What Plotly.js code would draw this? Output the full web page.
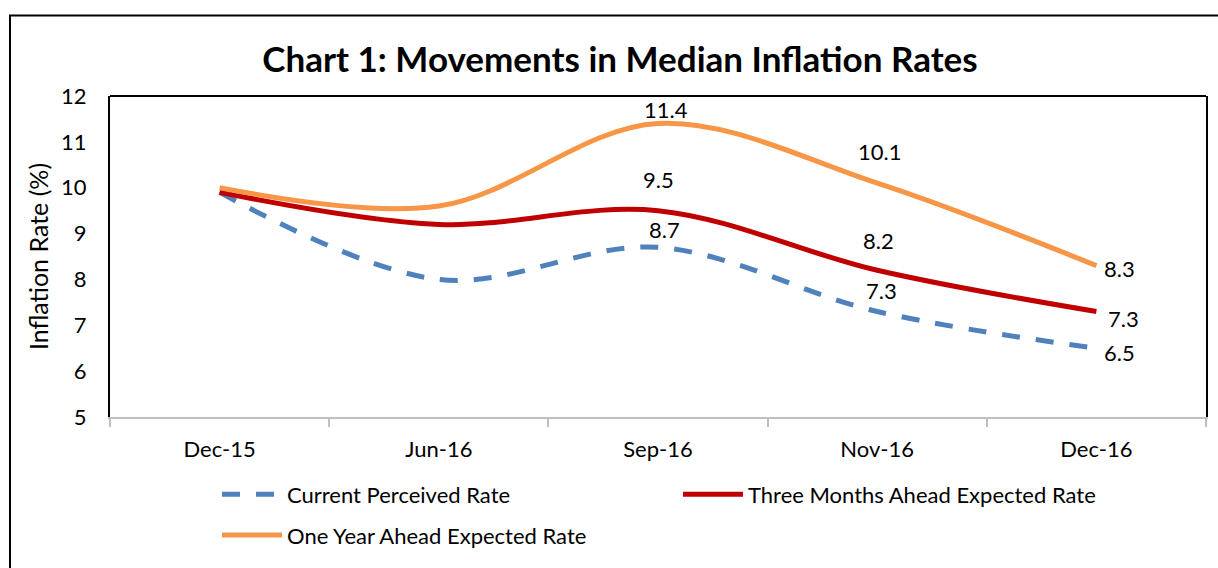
<!DOCTYPE html>
<html>
<head>
<meta charset="utf-8">
<script src="https://cdn.plot.ly/plotly-3.0.1.min.js"></script>
<style>html,body{margin:0;padding:0;background:#fff;}#chart{width:1218px;height:568px;}</style>
</head>
<body>
<div id="chart"></div>
<script>
var categories = ['Dec-15', 'Jun-16', 'Sep-16', 'Nov-16', 'Dec-16'];
var currentPerceived = [9.9, 8.0, 8.7, 7.3, 6.5];
var threeMonthsAhead = [9.9, 9.2, 9.5, 8.2, 7.3];
var oneYearAhead = [10.0, 9.6, 11.4, 10.1, 8.3];
var seriesNames = ['Current Perceived Rate', 'Three Months Ahead Expected Rate', 'One Year Ahead Expected Rate'];
var labelledIdx = [2, 3, 4];

var FONT = 'Lato, "Open Sans", sans-serif';
var colors = ['#4f81bd', '#c00000', '#f79646'];
var series = [currentPerceived, threeMonthsAhead, oneYearAhead];

var traces = series.map(function (vals, i) {
  return {
    x: categories, y: vals, type: 'scatter', mode: 'lines', name: seriesNames[i],
    line: {color: colors[i], width: 5, shape: 'spline', smoothing: 1, dash: i === 0 ? '18px,16px' : 'solid'},
    legend: i === 2 ? 'legend2' : 'legend',
    hoverinfo: 'x+y'
  };
});

// label offsets (px) per series per labelled point
var labelShift = [
  [[6, 18], [4, 21], [23, -4]],
  [[0, 31], [1, 30], [27, -7]],
  [[8, 14], [2, 32], [23, -3]]
];
var annotations = [];
series.forEach(function (vals, s) {
  labelledIdx.forEach(function (idx, k) {
    annotations.push({
      x: categories[idx], y: vals[idx], xref: 'x', yref: 'y',
      text: vals[idx].toFixed(1), showarrow: false,
      xshift: labelShift[s][k][0], yshift: labelShift[s][k][1],
      font: {family: FONT, size: 22, color: '#000'}
    });
  });
});

var legendX = (217 - 110) / 1096;
var layout = {
  width: 1218, height: 568,
  margin: {l: 110, r: 12, t: 96, b: 149},
  paper_bgcolor: '#fff', plot_bgcolor: '#fff',
  font: {family: FONT, size: 22, color: '#000'},
  title: {text: '<b>Chart 1: Movements in Median Inflation Rates</b>', font: {family: FONT, size: 35, color: '#000'},
          x: 0.509, xref: 'container', xanchor: 'center', y: 1 - 60 / 568, yref: 'container', yanchor: 'middle'},
  xaxis: {type: 'category', range: [-0.5, 4.5], showgrid: false, zeroline: false,
          showline: true, linecolor: '#bfbfbf', linewidth: 2,
          ticks: 'outside', tickson: 'boundaries', ticklen: 8, tickcolor: '#bfbfbf', tickwidth: 2,
          ticklabelstandoff: 12, tickfont: {family: FONT, size: 22, color: '#000'}},
  yaxis: {range: [5, 12], dtick: 1, showgrid: false, zeroline: false,
          showline: true, linecolor: '#000', linewidth: 2, mirror: true, ticks: '',
          ticklabelstandoff: 17, tickfont: {family: FONT, size: 22, color: '#000'},
          title: {text: 'Inflation Rate (%)', font: {family: FONT, size: 25, color: '#000'}, standoff: 5}},
  showlegend: true,
  legend: {orientation: 'h', x: legendX, xanchor: 'left', y: (419 - 497) / 323, yanchor: 'middle',
           entrywidth: 386, entrywidthmode: 'pixels', itemwidth: 60, font: {family: FONT, size: 22, color: '#000'},
           bgcolor: 'rgba(0,0,0,0)', traceorder: 'normal'},
  legend2: {orientation: 'h', x: legendX, xanchor: 'left', y: (419 - 538) / 323, yanchor: 'middle',
           itemwidth: 60, font: {family: FONT, size: 22, color: '#000'}, bgcolor: 'rgba(0,0,0,0)'},
  annotations: annotations,
  shapes: [
    {type: 'line', xref: 'paper', yref: 'paper', x0: 0, x1: 1, y0: 1, y1: 1, line: {color: '#000', width: 2}},
    {type: 'rect', xref: 'paper', yref: 'paper', x0: (10 - 110) / 1096, x1: 1.2, y0: -1, y1: (419 - 15) / 323,
     line: {color: '#000', width: 2}, fillcolor: 'rgba(0,0,0,0)', layer: 'above'}
  ]
};

Plotly.newPlot('chart', traces, layout, {displayModeBar: false, staticPlot: true});
</script>
</body>
</html>
